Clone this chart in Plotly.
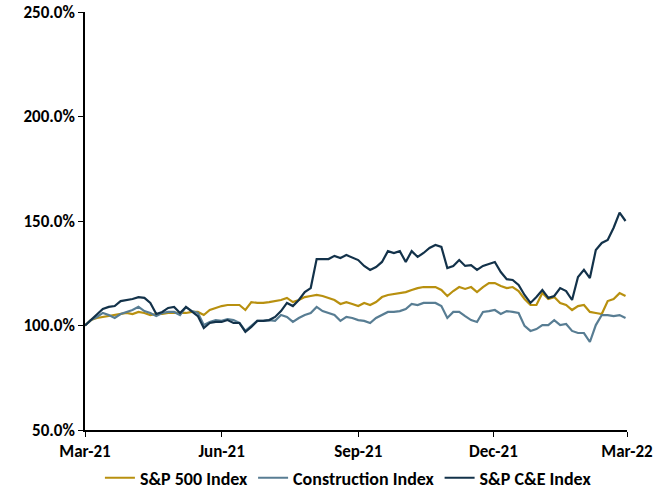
import pandas as pd
import plotly.graph_objects as go

dates = pd.date_range("2021-03-01", periods=92, freq="4D")

sp500 = [100.0, 102.6, 103.6, 104.1, 104.5, 105.0, 105.5, 106.0, 105.5, 106.5,
         106.0, 105.0, 105.5, 105.5, 106.0, 106.0, 106.0, 106.0, 106.5, 106.5,
         105.0, 107.4, 108.4, 109.3, 109.8, 109.8, 109.8, 107.4, 111.2, 110.8,
         110.8, 111.2, 111.7, 112.2, 113.2, 111.2, 112.2, 113.6, 114.1, 114.6,
         114.1, 113.2, 112.2, 110.3, 111.2, 110.3, 109.3, 110.8, 109.8, 111.2,
         113.6, 114.6, 115.1, 115.6, 116.0, 117.0, 117.9, 118.4, 118.4, 118.4,
         117.0, 114.1, 116.5, 118.4, 117.5, 118.4, 116.0, 118.4, 120.3, 120.3,
         118.9, 117.9, 118.4, 116.5, 112.7, 109.8, 109.8, 115.6, 112.7, 113.6,
         110.8, 109.8, 107.4, 109.3, 109.8, 106.5, 106.0, 105.5, 111.7, 112.7,
         115.5, 114.1]

construction = [100.0, 102.6, 104.1, 106.0, 105.0, 103.6, 105.5, 106.5, 107.4, 108.9,
                106.9, 106.0, 104.5, 106.0, 106.5, 106.5, 105.0, 108.9, 106.9, 106.0,
                100.2, 101.7, 102.6, 102.2, 103.1, 102.6, 101.2, 97.4, 99.8, 102.2,
                102.2, 102.6, 102.2, 105.0, 104.1, 101.7, 103.6, 105.0, 106.0, 108.9,
                106.9, 106.0, 105.0, 102.2, 104.1, 103.6, 102.6, 102.2, 101.2, 103.6,
                105.0, 106.5, 106.5, 106.9, 107.9, 110.3, 109.8, 110.8, 110.8, 110.8,
                109.3, 103.6, 106.5, 106.5, 104.5, 102.6, 101.7, 106.5, 106.9, 107.4,
                105.5, 106.9, 106.5, 106.0, 99.8, 97.4, 98.3, 100.2, 100.2, 102.6,
                100.2, 100.7, 97.4, 96.4, 96.4, 92.1, 100.2, 105.0, 105.0, 104.5,
                105.0, 103.6]

spce = [100.0, 102.6, 105.0, 107.9, 108.9, 109.3, 111.7, 112.2, 112.7, 113.6,
        113.2, 110.8, 105.5, 106.5, 108.4, 108.9, 106.0, 108.9, 106.9, 104.5,
        98.8, 101.2, 101.7, 101.7, 102.6, 101.2, 101.2, 96.9, 99.3, 102.2,
        102.2, 102.6, 104.1, 106.9, 110.8, 109.3, 112.2, 116.0, 117.9, 131.8,
        131.8, 131.8, 133.3, 132.3, 133.7, 132.3, 131.3, 128.5, 126.6, 128.0,
        130.4, 135.6, 134.7, 135.6, 130.4, 135.6, 132.8, 134.7, 137.1, 138.5,
        137.6, 127.5, 128.5, 131.3, 128.5, 128.9, 126.6, 128.5, 129.4, 130.4,
        125.6, 122.2, 121.8, 119.4, 114.6, 110.8, 113.6, 117.0, 113.2, 114.1,
        117.9, 116.5, 112.2, 123.2, 126.6, 122.7, 136.1, 139.5, 140.9, 146.8,
        154.0, 150.0]

tick_dates = ["2021-03-01", "2021-06-01", "2021-09-01", "2021-12-01", "2022-03-01"]
tick_labels = ["Mar-21", "Jun-21", "Sep-21", "Dec-21", "Mar-22"]

names = ["S&P 500 Index", "Construction Index", "S&P C&E Index"]
colors = ["#B8900F", "#587D93", "#13324A"]

FONT = "Carlito, Calibri, Lato, 'Open Sans', sans-serif"

fig = go.Figure()
for name, vals, col in zip(names, [sp500, construction, spce], colors):
    fig.add_trace(go.Scatter(x=dates, y=vals, mode="lines", name=name,
                             line=dict(color=col, width=2.2)))

fig.update_layout(
    width=668, height=493,
    margin=dict(l=85, r=41, t=12, b=63, autoexpand=False),
    paper_bgcolor="white", plot_bgcolor="white",
    font=dict(family=FONT, size=17, color="black"),
    showlegend=True,
    legend=dict(orientation="h", x=0.486, xanchor="center", y=-0.115, yanchor="middle",
                font=dict(family=FONT, size=18, color="black", weight="bold"),
                itemwidth=30, tracegroupgap=0),
)
fig.update_xaxes(type="date", range=["2021-03-01", "2022-03-01"],
                 tickvals=tick_dates, ticktext=tick_labels,
                 showline=True, linecolor="black", linewidth=1.5,
                 ticks="outside", ticklen=5, tickcolor="black",
                 showgrid=False, zeroline=False, automargin=False,
                 tickfont=dict(family=FONT, size=17, color="black", weight="bold"))
fig.update_yaxes(range=[50, 250], dtick=50, tickformat=".1f", ticksuffix="%",
                 showline=True, linecolor="black", linewidth=1.5,
                 ticks="outside", ticklen=5, tickcolor="black",
                 showgrid=False, zeroline=False, automargin=False,
                 tickfont=dict(family=FONT, size=17, color="black", weight="bold"))

fig.write_html("out.html", config={"displayModeBar": False},
               post_script="document.body.style.margin='0';")
